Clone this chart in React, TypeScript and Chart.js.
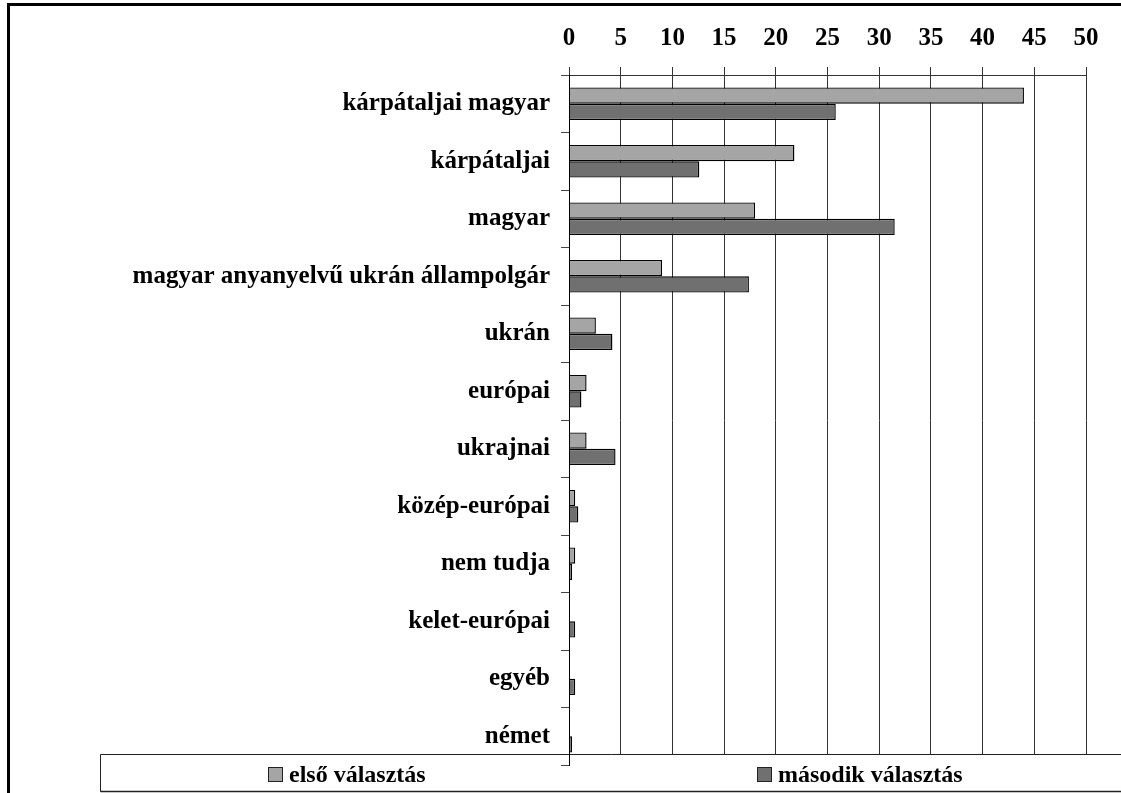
import React, { useEffect, useRef } from "react";
import { Chart, registerables } from "chart.js";

Chart.register(...registerables);

const categories: string[] = [
  "kárpátaljai magyar",
  "kárpátaljai",
  "magyar",
  "magyar anyanyelvű ukrán állampolgár",
  "ukrán",
  "európai",
  "ukrajnai",
  "közép-európai",
  "nem tudja",
  "kelet-európai",
  "egyéb",
  "német",
];

const firstChoice: number[] = [44.0, 21.8, 18.0, 9.0, 2.6, 1.7, 1.7, 0.6, 0.6, 0, 0, 0];
const secondChoice: number[] = [25.8, 12.6, 31.5, 17.4, 4.2, 1.2, 4.5, 0.9, 0.3, 0.6, 0.6, 0.3];

const seriesLabels: string[] = ["első választás", "második választás"];
const xTicks: number[] = [0, 5, 10, 15, 20, 25, 30, 35, 40, 45, 50];

const FONT = "'Liberation Serif', 'Times New Roman', serif";

const framePlugin = {
  id: "frame",
  beforeDraw(chart: any) {
    const ctx = chart.ctx;
    ctx.save();
    ctx.fillStyle = "#fff";
    ctx.fillRect(0, 0, chart.width, chart.height);
    ctx.restore();
  },
  afterDatasetsDraw(chart: any) {
    const ctx = chart.ctx;
    ctx.save();
    // legend box
    const boxTop = 754;
    const boxBottom = 791;
    ctx.fillStyle = "#fff";
    ctx.fillRect(100, boxTop, chart.width, boxBottom - boxTop);
    ctx.strokeStyle = "#222";
    ctx.lineWidth = 1;
    ctx.beginPath();
    ctx.moveTo(chart.width + 5, boxTop + 0.5);
    ctx.lineTo(100.5, boxTop + 0.5);
    ctx.lineTo(100.5, boxBottom + 0.5);
    ctx.lineTo(chart.width + 5, boxBottom + 0.5);
    ctx.stroke();
    ctx.lineWidth = 1.5;
    ctx.beginPath();
    ctx.moveTo(100.5, boxBottom + 0.5);
    ctx.lineTo(chart.width + 5, boxBottom + 0.5);
    ctx.stroke();

    const itemX = [268, 757];
    ctx.font = "bold 24px " + FONT;
    ctx.textBaseline = "alphabetic";
    ctx.textAlign = "left";
    chart.data.datasets.forEach((ds: any, i: number) => {
      const x = itemX[i];
      ctx.fillStyle = ds.backgroundColor;
      ctx.fillRect(x, 767, 15, 15);
      ctx.strokeStyle = "#222";
      ctx.lineWidth = 1;
      ctx.strokeRect(x + 0.5, 767.5, 14, 14);
      ctx.fillStyle = "#000";
      ctx.fillText(ds.label, x + 21, 782);
    });

    // outer frame
    ctx.fillStyle = "#000";
    ctx.fillRect(7, 3, 3, chart.height);
    ctx.fillRect(7, 3, chart.width, 3);
    ctx.restore();
  },
};

export default function App() {
  const canvasRef = useRef<HTMLCanvasElement | null>(null);

  useEffect(() => {
    document.body.style.margin = "0";
    const canvas = canvasRef.current;
    if (!canvas) return;
    const chart = new Chart(canvas, {
      type: "bar",
      data: {
        labels: categories,
        datasets: [
          {
            label: seriesLabels[0],
            data: firstChoice,
            backgroundColor: "#a5a5a5",
            borderColor: "#000",
            borderWidth: 1.4,
          },
          {
            label: seriesLabels[1],
            data: secondChoice,
            backgroundColor: "#707070",
            borderColor: "#000",
            borderWidth: 1.4,
          },
        ],
      },
      options: {
        indexAxis: "y",
        animation: false,
        responsive: false,
        devicePixelRatio: 1,
        layout: { padding: { left: 0, right: 35, top: 0, bottom: 28 } },
        datasets: {
          bar: { categoryPercentage: 0.567, barPercentage: 1.0 },
        },
        plugins: {
          legend: { display: false },
          tooltip: { enabled: false },
          title: { display: false },
        },
        scales: {
          x: {
            position: "top",
            min: 0,
            max: 50,
            afterBuildTicks: (scale: any) => {
              scale.ticks = xTicks.map((v) => ({ value: v }));
            },
            afterFit: (scale: any) => {
              scale.height = 75;
            },
            ticks: {
              color: "#000",
              font: { family: FONT, size: 25, weight: "bold" },
              padding: 13,
              maxRotation: 0,
              autoSkip: false,
            },
            grid: {
              color: "#333",
              lineWidth: 1,
              tickLength: 8,
              drawTicks: true,
            },
            border: { display: true, color: "#333", width: 1 },
          },
          y: {
            afterFit: (scale: any) => {
              scale.width = 569;
            },
            ticks: {
              color: "#000",
              font: { family: FONT, size: 25, weight: "bold" },
              padding: 11,
              autoSkip: false,
            },
            grid: {
              offset: true,
              drawOnChartArea: false,
              drawTicks: true,
              tickLength: 8,
              color: "#444",
              z: 1,
            },
            border: { display: true, color: "#000", width: 1, z: 1 },
          },
        },
      },
      plugins: [framePlugin],
    });
    return () => chart.destroy();
  }, []);

  return (
    <div style={{ width: 1121, height: 793 }}>
      <canvas ref={canvasRef} width={1121} height={793} style={{ display: "block" }} />
    </div>
  );
}
